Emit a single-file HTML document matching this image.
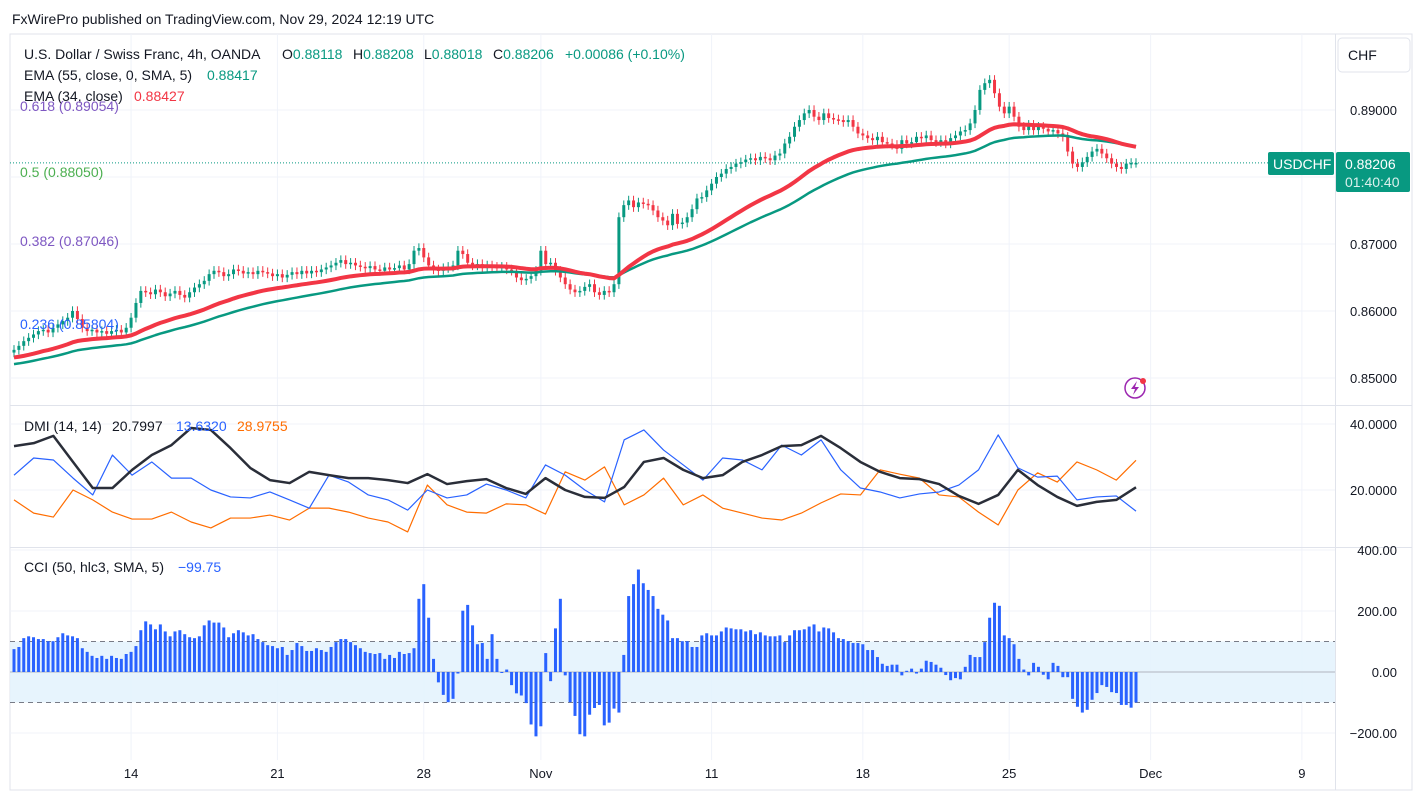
<!DOCTYPE html>
<html><head><meta charset="utf-8"><style>
body{margin:0;background:#fff;font-family:"Liberation Sans",sans-serif;}
svg text{font-family:"Liberation Sans",sans-serif;}
</style></head><body>
<svg id="c" width="1421" height="800" xmlns="http://www.w3.org/2000/svg">
<text x="12" y="24" font-size="14" fill="#131722">FxWirePro published on TradingView.com, Nov 29, 2024 12:19 UTC</text>
<rect x="10" y="34" width="1402" height="756" fill="none" stroke="#e0e3eb"/>
<g id="grid"></g><g id="cciband"></g><g id="marks"></g>
<line x1="10" y1="405.5" x2="1412" y2="405.5" stroke="#e0e3eb"/>
<line x1="10" y1="547.5" x2="1412" y2="547.5" stroke="#e0e3eb"/>
<line x1="1335.5" y1="34" x2="1335.5" y2="790" stroke="#e0e3eb"/>
<g id="labels"></g>
<g font-size="14">
<text y="59" fill="#131722"><tspan x="24">U.S. Dollar / Swiss Franc, 4h, OANDA</tspan><tspan x="282">O</tspan><tspan fill="#089981">0.88118</tspan><tspan x="353">H</tspan><tspan fill="#089981">0.88208</tspan><tspan x="424">L</tspan><tspan fill="#089981">0.88018</tspan><tspan x="493">C</tspan><tspan fill="#089981">0.88206</tspan><tspan x="565" fill="#089981">+0.00086 (+0.10%)</tspan></text>
<text y="80" fill="#131722"><tspan x="24">EMA (55, close, 0, SMA, 5)</tspan><tspan x="207" fill="#089981">0.88417</tspan></text>
<text y="101" fill="#131722"><tspan x="24">EMA (34, close)</tspan><tspan x="134" fill="#f23645">0.88427</tspan></text>
<text x="20" y="111" fill="#7e57c2">0.618 (0.89054)</text>
<text x="20" y="177" fill="#4caf50">0.5 (0.88050)</text>
<text x="20" y="246" fill="#7e57c2">0.382 (0.87046)</text>
<text x="20" y="329" fill="#2962ff">0.236 (0.85804)</text>
<text y="431" fill="#131722"><tspan x="24">DMI (14, 14)</tspan><tspan x="112">20.7997</tspan><tspan x="176" fill="#2962ff">13.6320</tspan><tspan x="237" fill="#ff6d00">28.9755</tspan></text>
<text y="572" fill="#131722"><tspan x="24">CCI (50, hlc3, SMA, 5)</tspan><tspan x="178" fill="#2962ff">−99.75</tspan></text>
</g>
<rect x="1338" y="38" width="72" height="34" rx="4" fill="#fff" stroke="#e0e3eb"/>
<text x="1348" y="60" font-size="14" fill="#131722">CHF</text>
<rect x="1268" y="152" width="66" height="23" rx="2" fill="#089981"/>
<text x="1273" y="169" font-size="14" fill="#fff">USDCHF</text>
<rect x="1336" y="152" width="74" height="40" rx="2" fill="#089981"/>
<text x="1345" y="169" font-size="14" fill="#fff">0.88206</text>
<text x="1345" y="187" font-size="14" fill="#fff" fill-opacity="0.85">01:40:40</text>
<circle cx="1135" cy="388" r="10" fill="none" stroke="#9c27b0" stroke-width="1.5"/>
<path d="M1137 381 L1131 389 L1135 389 L1133 395 L1139 387 L1135 387 Z" fill="#9c27b0"/>
<circle cx="1143" cy="381" r="3" fill="#f23645"/>
</svg>
<script>
const closes=[542,548,555,560,565,570,572,568,575,580,585,590,600,588,575,570,572,568,570,566,570,572,568,575,590,612,630,628,625,632,628,622,626,630,624,620,628,635,640,645,655,660,658,652,655,662,660,656,658,655,660,658,656,652,655,650,654,658,655,660,656,660,658,662,665,668,672,676,670,672,668,666,664,667,662,660,665,662,664,668,662,670,690,694,680,668,662,660,664,666,668,690,685,672,668,670,664,668,666,664,666,662,660,650,646,648,652,660,690,670,672,660,650,640,632,628,630,636,640,628,624,630,628,640,740,758,765,755,762,760,758,750,740,735,728,745,730,732,740,752,768,770,780,790,800,805,812,815,820,822,826,828,825,830,828,825,832,835,850,860,875,885,895,900,890,885,895,888,886,885,882,885,875,865,862,858,855,860,852,850,848,842,855,850,852,860,858,862,855,852,855,850,858,862,868,870,880,900,930,940,945,925,905,895,905,890,875,870,878,870,875,872,868,870,865,860,838,820,815,822,830,838,842,835,828,820,815,812,820,821,821];
const cci=[75,82,111,117,114,108,108,101,101,114,127,120,117,111,78,66,53,46,53,43,53,46,43,59,66,85,137,166,156,140,156,133,117,133,137,124,114,111,117,153,169,162,162,146,114,127,137,130,120,124,108,98,88,85,78,82,56,72,95,85,69,69,78,72,66,82,98,108,108,98,88,78,66,62,59,62,43,56,46,66,59,62,78,240,288,178,43,-34,-75,-99,-88,-5,201,220,153,91,95,43,124,43,0,8,-43,-70,-77,-102,-172,-211,-178,62,-30,143,240,-11,-99,-144,-204,-211,-140,-118,-108,-175,-166,-120,-133,56,249,288,336,291,269,249,207,188,169,111,111,101,101,82,82,120,127,120,120,133,146,143,140,140,133,137,124,130,120,117,117,120,98,120,137,137,140,149,156,133,146,143,130,111,108,101,95,95,91,72,72,49,27,20,24,24,-11,4,11,-5,11,37,33,24,14,-10,-27,-20,-24,17,56,49,49,98,178,227,217,120,111,91,43,8,-11,30,17,-9,-24,30,20,-17,-17,-88,-114,-133,-124,-91,-69,-43,-49,-66,-69,-108,-108,-117,-100];
const adx=[33.3,34.2,36.4,28.5,20.6,20.6,26.1,30.6,33.6,38.8,38.2,32.7,26.7,23.0,22.1,25.5,24.5,23.6,23.6,23.0,22.1,24.8,21.8,22.7,23.3,20.6,18.8,23.6,20.0,17.9,17.6,20.9,28.5,29.7,26.1,23.6,24.5,28.5,30.6,33.3,33.6,36.4,32.7,28.5,25.5,23.6,23.3,21.8,18.2,15.8,18.5,26.1,21.5,17.9,15.2,16.4,17.0,20.8];
const plusDI=[24.5,29.7,29.1,23.6,18.5,30.6,24.5,28.5,23.6,23.6,20.0,17.9,17.6,19.4,17.0,14.5,24.5,22.4,18.5,17.0,13.9,20.0,17.6,18.5,21.8,20.0,17.6,27.6,24.5,20.0,16.4,35.2,38.2,32.1,27.6,23.0,29.7,29.1,26.1,33.6,30.6,35.2,26.1,20.6,19.4,17.6,18.8,19.4,21.5,26.1,36.7,26.7,23.9,24.2,17.0,17.9,18.2,13.6];
const minusDI=[17.0,13.0,11.8,20.0,17.0,13.3,11.2,11.2,13.3,10.3,8.5,11.5,11.5,12.4,10.9,14.5,14.5,13.3,11.5,10.3,7.3,21.5,15.5,13.3,13.0,15.8,15.5,12.7,25.5,23.0,27.0,15.5,18.5,23.6,15.5,18.5,14.5,13.0,11.5,10.9,13.0,16.1,18.8,18.5,26.1,24.8,23.6,18.5,17.9,13.3,9.4,20.0,25.2,22.4,28.5,26.1,23.0,29.0];
const priceTicks=["0.89000","0.88000","0.87000","0.86000","0.85000"];
const priceTickVals=[900,800,700,600,500];
const dmiTicks=["40.0000","20.0000"];const dmiTickVals=[40,20];
const cciTicks=["400.00","200.00","0.00","−200.00"];const cciTickVals=[400,200,0,-200];
const dateLabels=["14","21","28","Nov","11","18","25","Dec","9"];
const dateBars=[24,54,84,108,143,174,204,233,264];

const NS="http://www.w3.org/2000/svg";
const X0=14,X1=1136,N=closes.length,step=(X1-X0)/(N-1);
const xb=i=>X0+i*step;
const yP=v=>110+(900-v)*0.67;
const yD=v=>424+(40-v)*3.3;
const yC=v=>672-v*0.305;
function mk(p,tag,a){const e=document.createElementNS(NS,tag);for(const k in a)e.setAttribute(k,a[k]);p.appendChild(e);return e;}
const G=document.getElementById('grid'),M=document.getElementById('marks'),L=document.getElementById('labels'),B=document.getElementById('cciband');
dateBars.forEach((b,i)=>{const x=xb(b);
 const l=mk(G,'line',{x1:x,y1:34,x2:x,y2:760,stroke:'#f0f3fa'});
 
 
 const t=mk(L,'text',{x:x,y:778,'font-size':13,fill:'#131722','text-anchor':'middle'});t.textContent=dateLabels[i];
 
 
});
priceTickVals.forEach((v,i)=>{const y=yP(v);
 const l=mk(G,'line',{x1:10,y1:y,x2:1335,y2:y,stroke:'#f0f3fa'});
 
 
 const t=mk(L,'text',{x:1397,y:y+5,'font-size':13,fill:'#131722','text-anchor':'end'});t.textContent=priceTicks[i];
 
 
});
dmiTickVals.forEach((v,i)=>{const y=yD(v);
 const l=mk(G,'line',{x1:10,y1:y,x2:1335,y2:y,stroke:'#f0f3fa'});
 
 
 const t=mk(L,'text',{x:1397,y:y+5,'font-size':13,fill:'#131722','text-anchor':'end'});t.textContent=dmiTicks[i];
 
 
});
cciTickVals.forEach((v,i)=>{const y=yC(v);
 const l=mk(G,'line',{x1:10,y1:y,x2:1335,y2:y,stroke:'#f0f3fa'});
 
 
 const t=mk(L,'text',{x:1397,y:Math.max(y+5,555),'font-size':13,fill:'#131722','text-anchor':'end'});t.textContent=cciTicks[i];
 
 
});
const band=mk(B,'rect',{x:10,y:yC(100),width:1325,height:yC(-100)-yC(100),fill:'#e3f2fd',opacity:0.85});


[100,-100].forEach(v=>{const l=mk(B,'line',{x1:10,y1:yC(v),x2:1335,y2:yC(v),stroke:'#787b86','stroke-dasharray':'5,4'});
 
 });
const z=mk(B,'line',{x1:10,y1:yC(0),x2:1335,y2:yC(0),stroke:'#b2b5be'});


const dl=mk(M,'line',{x1:10,y1:yP(closes[N-1]),x2:1268,y2:yP(closes[N-1]),stroke:'#089981','stroke-dasharray':'1,2'});


for(let i=0;i<N;i++){const c=closes[i],o=i?closes[i-1]:c-4,up=c>=o,col=up?'#089981':'#f23645',x=xb(i);
 const hi=Math.max(o,c)+7,lo=Math.min(o,c)-7;
 const w=mk(M,'line',{x1:x,y1:yP(hi),x2:x,y2:yP(lo),stroke:col});
 
 
 const top=yP(Math.max(o,c)),h=Math.max(1.5,yP(Math.min(o,c))-top);
 const r=mk(M,'rect',{x:x-1.5,y:top,width:3,height:h,fill:col});
 
 
}
function ema(n,seed){let e=seed,out=[];const k=2/(n+1);for(const c of closes){e=e+k*(c-e);out.push(e);}return out;}
const e55=ema(55,520),e34=ema(34,530);
function line(arr,xf,yf,col,w,name){const p=mk(M,'polyline',{points:arr.map((v,i)=>xf(i)+','+yf(v)).join(' '),fill:'none',stroke:col,'stroke-width':w,'stroke-linejoin':'round'});
 
 }
line(e55,xb,yP,'#089981',2.5,'ema55-line');
line(e34,xb,yP,'#f23645',4,'ema34-line');
const dstep=(X1-X0)/(adx.length-1),xd=i=>X0+i*dstep;
line(minusDI,xd,yD,'#ff6d00',1.2,'minus-di-line');
line(plusDI,xd,yD,'#2962ff',1.2,'plus-di-line');
line(adx,xd,yD,'#2a2e39',2.5,'adx-line');
const cstep=(X1-X0)/(cci.length-1);
cci.forEach((v,i)=>{const x=X0+i*cstep,y0=yC(0),y=yC(v);
 const r=mk(M,'rect',{x:x-1.5,y:Math.min(y,y0),width:3,height:Math.max(1,Math.abs(y-y0)),fill:'#2962ff'});
 
 
});
</script>
</body></html>
